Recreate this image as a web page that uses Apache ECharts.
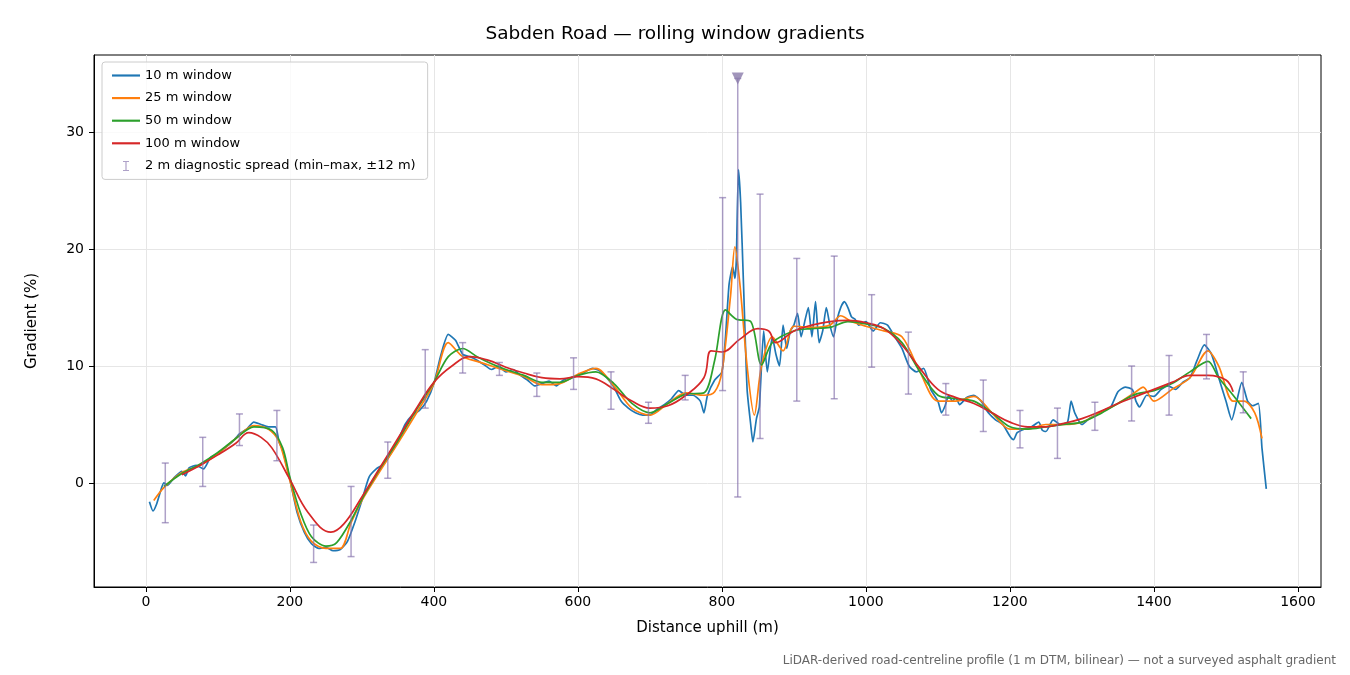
<!DOCTYPE html>
<html><head><meta charset="utf-8">
<script src="https://cdn.jsdelivr.net/npm/echarts@6/dist/echarts.min.js"></script>
<style>html,body{margin:0;padding:0;background:#fff}#c{width:1350px;height:675px}</style>
</head><body><div id="c"></div>
<script>
const xTicks=[0,200,400,600,800,1000,1200,1400,1600];
const yTicks=[0,10,20,30];
const w10=[[5,-1.6],[10,-2.4],[15,-1.8],[20,-0.8],[25,0],[30,-0.2],[40,0.5],[50,1.0],[55,0.6],[60,1.3],[70,1.5],[80,1.2],[90,2.2],[100,2.5],[110,3.0],[120,3.5],[130,4.2],[140,4.6],[150,5.2],[160,5.0],[170,4.8],[180,4.8],[185,3.5],[190,2.8],[200,0.3],[210,-2.5],[220,-4.2],[230,-5.2],[240,-5.6],[250,-5.5],[260,-5.8],[270,-5.7],[280,-5.0],[290,-3.4],[300,-1.5],[310,0.5],[320,1.2],[330,1.6],[340,2.5],[350,3.6],[360,5.0],[370,5.8],[380,6.2],[390,7.0],[400,8.5],[410,11.0],[420,12.7],[430,12.2],[440,11.0],[450,10.8],[460,10.5],[470,10.1],[480,9.7],[490,10.0],[500,9.5],[510,9.7],[520,9.2],[530,8.8],[540,8.3],[550,8.5],[560,8.7],[570,8.3],[580,8.8],[590,9.0],[600,9.2],[610,9.5],[620,9.8],[630,9.6],[640,9.0],[650,8.2],[660,7.0],[670,6.4],[680,6.0],[690,5.8],[700,5.8],[710,6.3],[720,6.7],[730,7.2],[740,7.9],[750,7.5],[760,7.5],[770,7.0],[775,6.0],[780,7.5],[790,8.8],[800,9.5],[805,12.5],[810,17.0],[815,18.5],[818,17.5],[820,19.0],[823,26.8],[826,24.0],[830,17.0],[835,8.0],[840,5.0],[843,3.5],[848,5.5],[852,6.5],[858,13.0],[863,9.5],[870,12.5],[875,11.0],[880,10.0],[885,13.5],[890,11.5],[895,13.0],[900,13.5],[905,14.5],[910,12.5],[915,13.8],[920,15.0],[925,12.5],[930,15.5],[935,12.0],[940,13.0],[945,15.0],[950,13.5],[955,12.5],[960,14.0],[965,15.0],[970,15.5],[975,15.0],[980,14.2],[985,14.0],[990,13.5],[1000,13.8],[1010,13.0],[1020,13.7],[1030,13.5],[1040,12.5],[1050,11.5],[1060,10.0],[1070,9.5],[1080,9.8],[1090,8.0],[1100,7.0],[1105,6.0],[1110,6.6],[1115,7.5],[1120,7.0],[1125,7.3],[1130,6.7],[1140,7.3],[1150,7.5],[1160,7.0],[1170,6.0],[1180,5.4],[1190,5.0],[1200,4.0],[1205,3.7],[1210,4.3],[1220,4.6],[1230,4.8],[1240,5.2],[1245,4.5],[1250,4.4],[1260,5.4],[1270,5.0],[1280,5.2],[1285,7.0],[1290,6.0],[1300,5.0],[1310,5.5],[1320,5.8],[1330,6.2],[1340,6.5],[1350,7.8],[1360,8.2],[1370,8.0],[1375,7.0],[1380,6.5],[1390,7.5],[1400,7.4],[1410,8.0],[1420,8.3],[1430,8.0],[1440,8.6],[1450,9.0],[1460,10.5],[1470,11.8],[1480,11.0],[1490,9.0],[1500,7.0],[1508,5.4],[1515,7.0],[1522,8.6],[1530,7.0],[1537,6.6],[1545,6.8],[1550,3.0],[1556,-0.5]];
const w25=[[11,-1.5],[25,-0.4],[50,0.9],[75,1.5],[100,2.5],[125,3.8],[150,4.9],[170,4.6],[185,3.5],[200,0.2],[215,-3.3],[230,-5.0],[250,-5.6],[270,-5.6],[285,-3.4],[300,-1.5],[325,1.0],[350,3.4],[375,5.9],[400,8.5],[420,12.0],[440,10.8],[460,10.4],[480,10.0],[500,9.6],[525,9.1],[550,8.4],[575,8.5],[600,9.3],[625,9.8],[650,8.3],[675,6.4],[700,5.8],[725,6.8],[750,7.7],[775,7.5],[790,7.8],[800,9.5],[812,16.0],[818,20.2],[825,17],[835,10],[845,5.8],[855,10.0],[870,12.5],[885,11.3],[900,13.4],[925,13.3],[950,13.5],[965,14.3],[980,13.8],[1000,13.4],[1025,13.0],[1050,12.5],[1075,9.5],[1100,7.0],[1125,7.0],[1150,7.4],[1175,6.0],[1200,4.6],[1225,4.6],[1250,5.0],[1275,5.0],[1300,5.2],[1325,6.0],[1350,6.8],[1375,7.8],[1385,8.2],[1400,7.0],[1425,8.0],[1450,9.0],[1475,11.3],[1490,10.0],[1510,7.0],[1525,7.0],[1540,6.0],[1550,3.8]];
const w50=[[25,-0.3],[50,0.8],[75,1.6],[100,2.6],[125,3.8],[150,4.8],[175,4.5],[190,3.0],[200,0.5],[215,-2.6],[230,-4.6],[250,-5.4],[265,-5.1],[285,-3.2],[300,-1.4],[325,1.2],[350,3.6],[375,6.2],[400,8.6],[420,10.8],[440,11.5],[460,10.8],[480,10.2],[500,9.7],[525,9.2],[550,8.6],[575,8.6],[600,9.2],[625,9.5],[650,8.5],[675,6.8],[700,6.0],[725,6.8],[750,7.6],[775,7.7],[790,10.5],[805,14.8],[820,14.0],[840,13.8],[855,10.1],[870,12.0],[900,13.0],[925,13.2],[950,13.3],[975,13.8],[1000,13.6],[1025,13.2],[1050,12.0],[1075,9.5],[1100,7.5],[1125,7.2],[1150,7.0],[1175,6.0],[1200,4.8],[1225,4.6],[1250,4.8],[1275,5.0],[1300,5.2],[1325,5.9],[1350,6.8],[1375,7.6],[1400,7.9],[1425,8.5],[1450,9.5],[1475,10.4],[1490,9.0],[1510,7.5],[1535,5.5]];
const w100=[[50,0.7],[75,1.5],[100,2.4],[125,3.4],[143,4.3],[160,3.9],[175,3.0],[200,0.3],[225,-2.5],[257,-4.2],[275,-3.5],[300,-1.2],[325,1.3],[350,3.8],[375,6.3],[400,8.6],[425,10.0],[450,10.8],[475,10.5],[500,9.9],[525,9.4],[550,9.0],[575,8.9],[600,9.1],[625,8.9],[650,8.0],[675,7.0],[700,6.4],[725,6.6],[750,7.5],[775,9.0],[785,11.3],[800,11.2],[825,12.3],[850,13.2],[865,13.0],[875,12.0],[900,13.0],[925,13.5],[950,13.8],[975,13.9],[1000,13.7],[1025,13.2],[1050,11.8],[1075,9.8],[1100,8.0],[1125,7.3],[1150,6.8],[1175,6.0],[1200,5.2],[1225,4.8],[1250,4.8],[1275,5.1],[1300,5.5],[1325,6.1],[1350,6.8],[1375,7.4],[1400,8.0],[1425,8.6],[1450,9.2],[1475,9.2],[1500,8.8],[1510,7.8]];
const errX=[27,79,130,182,233,285,336,388,440,491,543,594,646,698,749,801,822,853,904,956,1008,1059,1111,1163,1214,1266,1318,1369,1421,1473,1524];
const errMin=[-3.4,-0.3,3.2,1.9,-6.8,-6.3,0.4,6.4,9.4,9.2,7.4,8.0,6.3,5.1,7.1,7.9,-1.2,3.8,7.0,7.2,9.9,7.6,5.8,4.4,3.0,2.1,4.5,5.3,5.8,8.9,6.0];
const errMax=[1.7,3.9,5.9,6.2,-3.6,-0.3,3.5,11.4,12.0,10.3,9.4,10.7,9.5,6.9,9.2,24.4,34.6,24.7,19.2,19.4,16.1,12.9,8.5,8.8,6.2,6.4,6.9,10.0,10.9,12.7,9.5];
const clipMark=[[822,34.6]];

const errColor='rgba(130,110,170,0.65)';
const errData=errX.map((x,i)=>[x,errMin[i],errMax[i]]);
const line=(name,data,color,z,sm)=>({name,type:'line',data,showSymbol:false,symbol:'none',smooth:sm,
  lineStyle:{color,width:1.7},itemStyle:{color},z});
const F='DejaVu Sans';
const chart=echarts.init(document.getElementById('c'));
chart.setOption({
  animation:false,
  title:{text:'Sabden Road — rolling window gradients',left:'center',top:20,textStyle:{fontFamily:F,fontSize:18.5,fontWeight:'normal',color:'#000'}},
  grid:{left:94,right:29,top:55,bottom:88,show:true,borderColor:'#000',borderWidth:1},
  legend:{orient:'vertical',left:102,top:62,itemWidth:28,itemHeight:10,itemGap:9.6,
    textStyle:{fontFamily:F,fontSize:13,color:'#000'},
    backgroundColor:'rgba(255,255,255,0.8)',borderColor:'#ccc',borderWidth:1,borderRadius:3,padding:[7,12,7,10],
    data:[{name:'10 m window',icon:'path://M0,4H26V6H0Z'},{name:'25 m window',icon:'path://M0,4H26V6H0Z'},{name:'50 m window',icon:'path://M0,4H26V6H0Z'},{name:'100 m window',icon:'path://M0,4H26V6H0Z'},
      {name:'2 m diagnostic spread (min–max, ±12 m)',icon:'path://M12.4,0H13.6V10H12.4ZM10,0H16V1H10ZM10,9H16V10H10Z',itemStyle:{color:errColor}}]},
  xAxis:{type:'value',min:-72,max:1632,name:'Distance uphill (m)',nameLocation:'middle',nameGap:34,
    nameTextStyle:{fontFamily:F,fontSize:15,color:'#000'},
    axisLine:{onZero:false,lineStyle:{color:'#000'}},axisTick:{customValues:xTicks,length:5,lineStyle:{color:'#000'}},
    axisLabel:{customValues:xTicks,formatter:v=>String(v),fontFamily:F,fontSize:14,color:'#000',margin:8},
    splitLine:{show:true,lineStyle:{color:'#e6e6e6',width:1}}},
  yAxis:{type:'value',min:-8.9,max:36.6,name:'Gradient (%)',nameLocation:'middle',nameGap:54,nameRotate:90,
    nameTextStyle:{fontFamily:F,fontSize:15,color:'#000'},
    axisLine:{show:true,onZero:false,lineStyle:{color:'#000'}},axisTick:{show:true,customValues:yTicks,length:5,lineStyle:{color:'#000'}},
    axisLabel:{customValues:yTicks,fontFamily:F,fontSize:14,color:'#000',margin:10},
    splitLine:{show:true,lineStyle:{color:'#e6e6e6',width:1}}},
  graphic:[{type:'text',right:14,bottom:8,style:{text:'LiDAR-derived road-centreline profile (1 m DTM, bilinear) — not a surveyed asphalt gradient',fontFamily:F,fontSize:12,fill:'#666'}}],
  series:[
    line('10 m window',w10,'#1f77b4',2,0.2),
    line('25 m window',w25,'#ff7f0e',3,0.3),
    line('50 m window',w50,'#2ca02c',4,0.3),
    line('100 m window',w100,'#d62728',5,0.4),
    {name:'2 m diagnostic spread (min–max, ±12 m)',type:'custom',data:errData,z:6,itemStyle:{color:errColor},
      renderItem:(params,api)=>{const x=api.value(0);const lo=api.coord([x,api.value(1)]);const hi=api.coord([x,api.value(2)]);
        const st={stroke:errColor,lineWidth:1.5};
        return {type:'group',children:[
          {type:'line',shape:{x1:lo[0],y1:lo[1],x2:hi[0],y2:hi[1]},style:st},
          {type:'line',shape:{x1:lo[0]-3.5,y1:lo[1],x2:lo[0]+3.5,y2:lo[1]},style:st},
          {type:'line',shape:{x1:hi[0]-3.5,y1:hi[1],x2:hi[0]+3.5,y2:hi[1]},style:st}]};},
      encode:{x:0,y:[1,2]}},
    {type:'scatter',data:clipMark,symbol:'triangle',symbolRotate:180,symbolSize:12,itemStyle:{color:'#8a7aaa'},z:7}
  ]
});
</script></body></html>
